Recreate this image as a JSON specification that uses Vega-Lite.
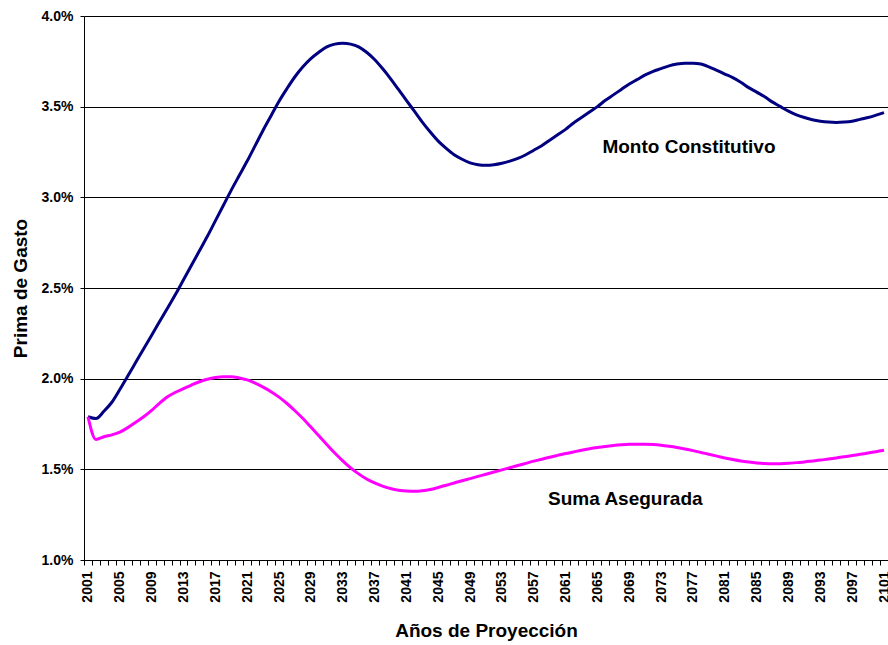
{
  "$schema": "https://vega.github.io/schema/vega-lite/v6.json",
  "width": 804,
  "height": 544,
  "autosize": "none",
  "padding": {"left": 84, "top": 16, "right": 0, "bottom": 85},
  "background": "white",
  "config": {
    "view": {"stroke": null},
    "font": "Liberation Sans",
    "axis": {"labelFont": "Liberation Sans", "titleFont": "Liberation Sans", "labelFontWeight": "bold", "titleFontWeight": "bold", "labelColor": "#000", "titleColor": "#000", "domainColor": "#000", "tickColor": "#000", "labelFontSize": 14, "titleFontSize": 19}
  },
  "layer": [
    {
      "data": {"values": [
        {"year":2001,"Monto Constitutivo":0.0179,"Suma Asegurada":0.0179},
        {"year":2002,"Monto Constitutivo":0.0178,"Suma Asegurada":0.01665},
        {"year":2003,"Monto Constitutivo":0.0182,"Suma Asegurada":0.0168},
        {"year":2004,"Monto Constitutivo":0.0187,"Suma Asegurada":0.0169},
        {"year":2005,"Monto Constitutivo":0.0194,"Suma Asegurada":0.01705},
        {"year":2006,"Monto Constitutivo":0.02015,"Suma Asegurada":0.0173},
        {"year":2007,"Monto Constitutivo":0.0209,"Suma Asegurada":0.0176},
        {"year":2008,"Monto Constitutivo":0.02165,"Suma Asegurada":0.0179},
        {"year":2009,"Monto Constitutivo":0.0224,"Suma Asegurada":0.01825},
        {"year":2010,"Monto Constitutivo":0.02315,"Suma Asegurada":0.01865},
        {"year":2011,"Monto Constitutivo":0.0239,"Suma Asegurada":0.0190},
        {"year":2012,"Monto Constitutivo":0.02465,"Suma Asegurada":0.01925},
        {"year":2013,"Monto Constitutivo":0.02545,"Suma Asegurada":0.01945},
        {"year":2014,"Monto Constitutivo":0.02625,"Suma Asegurada":0.01965},
        {"year":2015,"Monto Constitutivo":0.02705,"Suma Asegurada":0.01983},
        {"year":2016,"Monto Constitutivo":0.02785,"Suma Asegurada":0.01997},
        {"year":2017,"Monto Constitutivo":0.02870,"Suma Asegurada":0.02006},
        {"year":2018,"Monto Constitutivo":0.02955,"Suma Asegurada":0.0201},
        {"year":2019,"Monto Constitutivo":0.0304,"Suma Asegurada":0.0201},
        {"year":2020,"Monto Constitutivo":0.0312,"Suma Asegurada":0.02004},
        {"year":2021,"Monto Constitutivo":0.0320,"Suma Asegurada":0.01993},
        {"year":2022,"Monto Constitutivo":0.03285,"Suma Asegurada":0.01975},
        {"year":2023,"Monto Constitutivo":0.0337,"Suma Asegurada":0.01953},
        {"year":2024,"Monto Constitutivo":0.0345,"Suma Asegurada":0.01928},
        {"year":2025,"Monto Constitutivo":0.0353,"Suma Asegurada":0.01898},
        {"year":2026,"Monto Constitutivo":0.0360,"Suma Asegurada":0.01863},
        {"year":2027,"Monto Constitutivo":0.03665,"Suma Asegurada":0.01823},
        {"year":2028,"Monto Constitutivo":0.0372,"Suma Asegurada":0.0178},
        {"year":2029,"Monto Constitutivo":0.03765,"Suma Asegurada":0.01733},
        {"year":2030,"Monto Constitutivo":0.0380,"Suma Asegurada":0.01685},
        {"year":2031,"Monto Constitutivo":0.0383,"Suma Asegurada":0.01637},
        {"year":2032,"Monto Constitutivo":0.03845,"Suma Asegurada":0.0159},
        {"year":2033,"Monto Constitutivo":0.0385,"Suma Asegurada":0.01547},
        {"year":2034,"Monto Constitutivo":0.03845,"Suma Asegurada":0.01508},
        {"year":2035,"Monto Constitutivo":0.0383,"Suma Asegurada":0.01475},
        {"year":2036,"Monto Constitutivo":0.0380,"Suma Asegurada":0.01447},
        {"year":2037,"Monto Constitutivo":0.0376,"Suma Asegurada":0.01425},
        {"year":2038,"Monto Constitutivo":0.0371,"Suma Asegurada":0.01407},
        {"year":2039,"Monto Constitutivo":0.03655,"Suma Asegurada":0.01394},
        {"year":2040,"Monto Constitutivo":0.03595,"Suma Asegurada":0.01385},
        {"year":2041,"Monto Constitutivo":0.03535,"Suma Asegurada":0.0138},
        {"year":2042,"Monto Constitutivo":0.03475,"Suma Asegurada":0.01379},
        {"year":2043,"Monto Constitutivo":0.03415,"Suma Asegurada":0.01382},
        {"year":2044,"Monto Constitutivo":0.0336,"Suma Asegurada":0.01389},
        {"year":2045,"Monto Constitutivo":0.0331,"Suma Asegurada":0.0140},
        {"year":2046,"Monto Constitutivo":0.0327,"Suma Asegurada":0.01412},
        {"year":2047,"Monto Constitutivo":0.03235,"Suma Asegurada":0.01425},
        {"year":2048,"Monto Constitutivo":0.0321,"Suma Asegurada":0.01437},
        {"year":2049,"Monto Constitutivo":0.0319,"Suma Asegurada":0.01449},
        {"year":2050,"Monto Constitutivo":0.0318,"Suma Asegurada":0.01461},
        {"year":2051,"Monto Constitutivo":0.03177,"Suma Asegurada":0.01473},
        {"year":2052,"Monto Constitutivo":0.0318,"Suma Asegurada":0.01485},
        {"year":2053,"Monto Constitutivo":0.03188,"Suma Asegurada":0.01497},
        {"year":2054,"Monto Constitutivo":0.0320,"Suma Asegurada":0.01509},
        {"year":2055,"Monto Constitutivo":0.03215,"Suma Asegurada":0.01521},
        {"year":2056,"Monto Constitutivo":0.03235,"Suma Asegurada":0.01533},
        {"year":2057,"Monto Constitutivo":0.0326,"Suma Asegurada":0.01545},
        {"year":2058,"Monto Constitutivo":0.03285,"Suma Asegurada":0.01556},
        {"year":2059,"Monto Constitutivo":0.03315,"Suma Asegurada":0.01567},
        {"year":2060,"Monto Constitutivo":0.03345,"Suma Asegurada":0.01577},
        {"year":2061,"Monto Constitutivo":0.03375,"Suma Asegurada":0.01587},
        {"year":2062,"Monto Constitutivo":0.0341,"Suma Asegurada":0.01596},
        {"year":2063,"Monto Constitutivo":0.0344,"Suma Asegurada":0.01605},
        {"year":2064,"Monto Constitutivo":0.0347,"Suma Asegurada":0.01613},
        {"year":2065,"Monto Constitutivo":0.0350,"Suma Asegurada":0.0162},
        {"year":2066,"Monto Constitutivo":0.03535,"Suma Asegurada":0.01626},
        {"year":2067,"Monto Constitutivo":0.03565,"Suma Asegurada":0.01631},
        {"year":2068,"Monto Constitutivo":0.03595,"Suma Asegurada":0.01635},
        {"year":2069,"Monto Constitutivo":0.03625,"Suma Asegurada":0.01638},
        {"year":2070,"Monto Constitutivo":0.0365,"Suma Asegurada":0.01639},
        {"year":2071,"Monto Constitutivo":0.03675,"Suma Asegurada":0.01639},
        {"year":2072,"Monto Constitutivo":0.03695,"Suma Asegurada":0.01637},
        {"year":2073,"Monto Constitutivo":0.0371,"Suma Asegurada":0.01633},
        {"year":2074,"Monto Constitutivo":0.03725,"Suma Asegurada":0.01627},
        {"year":2075,"Monto Constitutivo":0.03735,"Suma Asegurada":0.0162},
        {"year":2076,"Monto Constitutivo":0.0374,"Suma Asegurada":0.01612},
        {"year":2077,"Monto Constitutivo":0.0374,"Suma Asegurada":0.01603},
        {"year":2078,"Monto Constitutivo":0.03735,"Suma Asegurada":0.01593},
        {"year":2079,"Monto Constitutivo":0.0372,"Suma Asegurada":0.01583},
        {"year":2080,"Monto Constitutivo":0.0370,"Suma Asegurada":0.01573},
        {"year":2081,"Monto Constitutivo":0.0368,"Suma Asegurada":0.01563},
        {"year":2082,"Monto Constitutivo":0.0366,"Suma Asegurada":0.01554},
        {"year":2083,"Monto Constitutivo":0.03635,"Suma Asegurada":0.01546},
        {"year":2084,"Monto Constitutivo":0.03605,"Suma Asegurada":0.0154},
        {"year":2085,"Monto Constitutivo":0.0358,"Suma Asegurada":0.01535},
        {"year":2086,"Monto Constitutivo":0.03555,"Suma Asegurada":0.01532},
        {"year":2087,"Monto Constitutivo":0.03525,"Suma Asegurada":0.01531},
        {"year":2088,"Monto Constitutivo":0.0350,"Suma Asegurada":0.01531},
        {"year":2089,"Monto Constitutivo":0.03475,"Suma Asegurada":0.01533},
        {"year":2090,"Monto Constitutivo":0.03455,"Suma Asegurada":0.01537},
        {"year":2091,"Monto Constitutivo":0.0344,"Suma Asegurada":0.01541},
        {"year":2092,"Monto Constitutivo":0.03428,"Suma Asegurada":0.01546},
        {"year":2093,"Monto Constitutivo":0.0342,"Suma Asegurada":0.01551},
        {"year":2094,"Monto Constitutivo":0.03415,"Suma Asegurada":0.01557},
        {"year":2095,"Monto Constitutivo":0.03413,"Suma Asegurada":0.01563},
        {"year":2096,"Monto Constitutivo":0.03415,"Suma Asegurada":0.01569},
        {"year":2097,"Monto Constitutivo":0.0342,"Suma Asegurada":0.01576},
        {"year":2098,"Monto Constitutivo":0.0343,"Suma Asegurada":0.01583},
        {"year":2099,"Monto Constitutivo":0.0344,"Suma Asegurada":0.0159},
        {"year":2100,"Monto Constitutivo":0.03453,"Suma Asegurada":0.01597},
        {"year":2101,"Monto Constitutivo":0.03467,"Suma Asegurada":0.01605}
      ]},
      "transform": [{"fold": ["Monto Constitutivo", "Suma Asegurada"], "as": ["serie", "valor"]}],
      "mark": {"type": "line", "strokeWidth": 3, "interpolate": "monotone"},
      "encoding": {
        "x": {
          "field": "year", "type": "ordinal", "bandPosition": 0.5,
          "scale": {"type": "band", "paddingInner": 0, "paddingOuter": 0},
          "axis": {
            "title": "Años de Proyección", "labelAngle": -90,
            "labelExpr": "(datum.value - 2001) % 4 == 0 ? datum.label : ''",
            "labelOverlap": false, "tickBand": "extent", "tickSize": 5,
            "labelPadding": 6, "titlePadding": 19, "grid": false
          }
        },
        "y": {
          "field": "valor", "type": "quantitative",
          "scale": {"domain": [0.01, 0.04], "nice": false, "zero": false},
          "axis": {
            "title": "Prima de Gasto", "format": ".1%",
            "values": [0.01, 0.015, 0.02, 0.025, 0.03, 0.035, 0.04],
            "grid": true, "gridColor": "#000", "gridOpacity": 1, "gridWidth": 1,
            "tickSize": 4, "labelPadding": 7, "titlePadding": 11
          }
        },
        "color": {
          "field": "serie", "type": "nominal",
          "scale": {"domain": ["Monto Constitutivo", "Suma Asegurada"], "range": ["#000080", "#FF00FF"]},
          "legend": null
        }
      }
    },
    {
      "data": {"values": [
        {"year": 2077, "valor": 0.0328, "label": "Monto Constitutivo"}
      ]},
      "mark": {"type": "text", "font": "Liberation Sans", "fontWeight": "bold", "fontSize": 19, "align": "center", "baseline": "middle", "color": "#000", "dx": -4},
      "encoding": {
        "x": {"field": "year", "type": "ordinal", "bandPosition": 0.5},
        "y": {"field": "valor", "type": "quantitative"},
        "text": {"field": "label"}
      }
    },
    {
      "data": {"values": [
        {"year": 2068, "valor": 0.01336, "label": "Suma Asegurada"}
      ]},
      "mark": {"type": "text", "font": "Liberation Sans", "fontWeight": "bold", "fontSize": 19, "align": "center", "baseline": "middle", "color": "#000", "dx": 4},
      "encoding": {
        "x": {"field": "year", "type": "ordinal", "bandPosition": 0.5},
        "y": {"field": "valor", "type": "quantitative"},
        "text": {"field": "label"}
      }
    }
  ]
}
